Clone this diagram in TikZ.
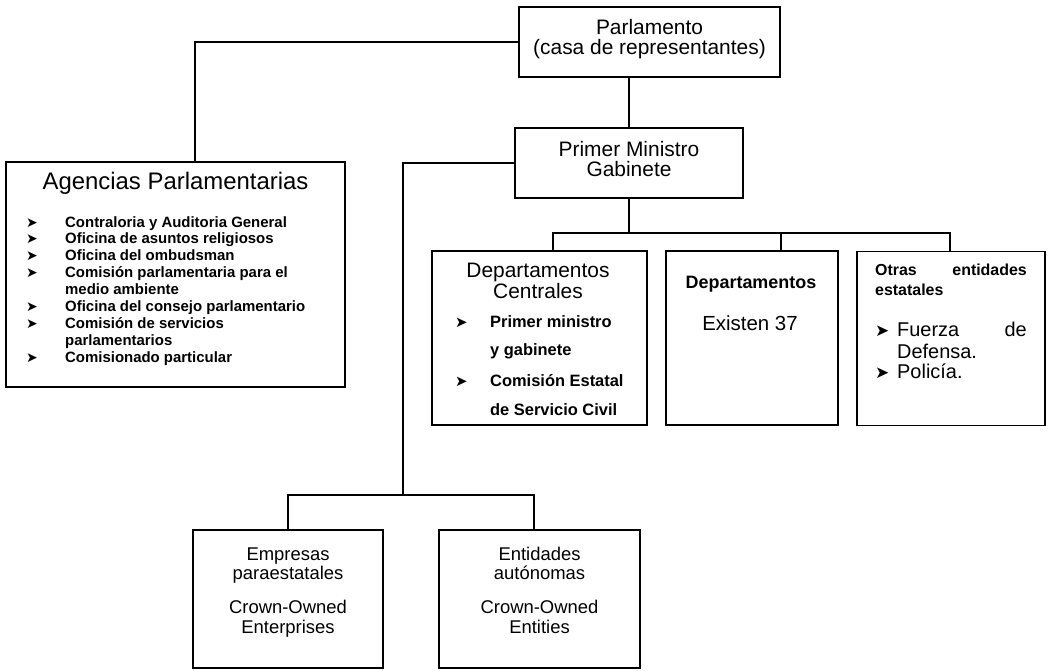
\documentclass[tikz,border=0pt]{standalone}
\usepackage{fontspec}
\setmainfont{Liberation Sans}
\newfontfamily\dingfont{DejaVu Sans}
\begin{document}
\begin{tikzpicture}[x=1bp,y=-1bp,
  box/.style={draw=black,line width=1.8bp,rectangle,inner sep=0pt},
  wire/.style={draw=black,line width=1.8bp},
  lbl/.style={inner sep=0pt,anchor=base,font=\fontsize{21}{24}\selectfont},
  itm/.style={inner sep=0pt,anchor=base west,font=\fontsize{15}{17}\selectfont\bfseries},
  arw/.style={inner sep=0pt,anchor=base west,font=\dingfont\fontsize{14}{16}\selectfont}]
\useasboundingbox (0,0) rectangle (1049,671);
% boxes: centre, width, height
\node[box,minimum width=261bp,minimum height=70bp] (parl) at (649.5,42) {};
\node[box,minimum width=228bp,minimum height=70bp] (pm) at (629,163) {};
\node[box,minimum width=339bp,minimum height=225bp] (ag) at (175.5,274.5) {};
\node[box,minimum width=215bp,minimum height=174bp] (dc) at (539.5,338) {};
\node[box,minimum width=172bp,minimum height=174bp] (dp) at (752,338) {};
\node[box,minimum width=188bp,minimum height=174bp] (ot) at (951,338.5) {};
\node[box,minimum width=190bp,minimum height=138bp] (em) at (288,599) {};
\node[box,minimum width=201bp,minimum height=138bp] (en) at (539.5,599) {};
% junction points
\coordinate (j1) at (195,42);
\coordinate (j2) at (403,163);
\coordinate (j3) at (403,495);
\coordinate (j4) at (629,233);
% connectors
\draw[wire] (parl.west) -- (j1) -- (j1 |- ag.north);
\draw[wire] (parl.south -| pm.north) -- (pm.north);
\draw[wire] (pm.west) -- (j2) -- (j3);
\draw[wire] (em.north) -- (em.north |- j3) -- (534,495) -- (en.north -| 534,0);
\draw[wire] (pm.south) -- (j4);
\draw[wire] (dc.north -| 553,0) -- (553,233) -- (950,233) -- (ot.north -| 950,0);
\draw[wire] (781,233) -- (dp.north -| 781,0);
% Parlamento
\node[lbl] (t1) at (649.5,35) {Parlamento};
\node[lbl] (t2) at (649.5,55) {(casa de representantes)};
% Primer Ministro
\node[lbl] (t3) at (629,157) {Primer Ministro};
\node[lbl] (t4) at (629,177) {Gabinete};
% Agencias
\node[lbl,font=\fontsize{24}{26}\selectfont] (t5) at (175.5,190) {Agencias Parlamentarias};
\foreach \yy/\txt in {227/Contraloria y Auditoria General,243/Oficina de asuntos religiosos,260/Oficina del ombudsman,277/Comisión parlamentaria para el,294/medio ambiente,311/Oficina del consejo parlamentario,328/Comisión de servicios,345/parlamentarios,362/Comisionado particular}
  \node[itm] at (65,\yy) {\txt};
\foreach \yy in {227,243,260,277,311,328,362}
  \node[arw] at (26,\yy) {➤};
% Departamentos Centrales
\node[lbl] (t6) at (538,277) {Departamentos};
\node[lbl] (t7) at (538,298) {Centrales};
\node[itm,font=\fontsize{16.5}{19}\selectfont\bfseries] at (490,327) {Primer ministro};
\node[itm,font=\fontsize{16.5}{19}\selectfont\bfseries] at (490,355) {y gabinete};
\node[itm,font=\fontsize{16.5}{19}\selectfont\bfseries] at (490,386) {Comisión Estatal};
\node[itm,font=\fontsize{16.5}{19}\selectfont\bfseries] at (490,415) {de Servicio Civil};
\node[arw,font=\dingfont\fontsize{15}{17}\selectfont] at (455,327) {➤};
\node[arw,font=\dingfont\fontsize{15}{17}\selectfont] at (455,386) {➤};
% Departamentos
\node[lbl,font=\fontsize{18}{20}\selectfont\bfseries] (t8) at (751,288) {Departamentos};
\node[lbl,font=\fontsize{20.5}{23}\selectfont] (t9) at (750,330) {Existen 37};
% Otras entidades estatales
\node[itm,font=\fontsize{16}{18}\selectfont\bfseries] at (875,275) {Otras};
\node[itm,anchor=base east,font=\fontsize{16}{18}\selectfont\bfseries] at (1027,275) {entidades};
\node[itm,font=\fontsize{16}{18}\selectfont\bfseries] at (875,295) {estatales};
\node[arw,font=\dingfont\fontsize{17}{19}\selectfont] at (875,336) {➤};
\node[itm,font=\fontsize{20}{22}\selectfont] at (897,336) {Fuerza};
\node[itm,anchor=base east,font=\fontsize{20}{22}\selectfont] at (1027,336) {de};
\node[itm,font=\fontsize{20}{22}\selectfont] at (897,358) {Defensa.};
\node[arw,font=\dingfont\fontsize{17}{19}\selectfont] at (875,378) {➤};
\node[itm,font=\fontsize{20}{22}\selectfont] at (897,378) {Policía.};
% Empresas / Entidades
\foreach \xx/\a/\b/\c/\d in {288/Empresas/paraestatales/Crown-Owned/Enterprises,539.5/Entidades/autónomas/Crown-Owned/Entities}{
  \node[lbl,font=\fontsize{18.5}{21}\selectfont] at (\xx,560) {\a};
  \node[lbl,font=\fontsize{18.5}{21}\selectfont] at (\xx,579) {\b};
  \node[lbl,font=\fontsize{18.5}{21}\selectfont] at (\xx,613) {\c};
  \node[lbl,font=\fontsize{18.5}{21}\selectfont] at (\xx,633) {\d};
}
\end{tikzpicture}
\end{document}
